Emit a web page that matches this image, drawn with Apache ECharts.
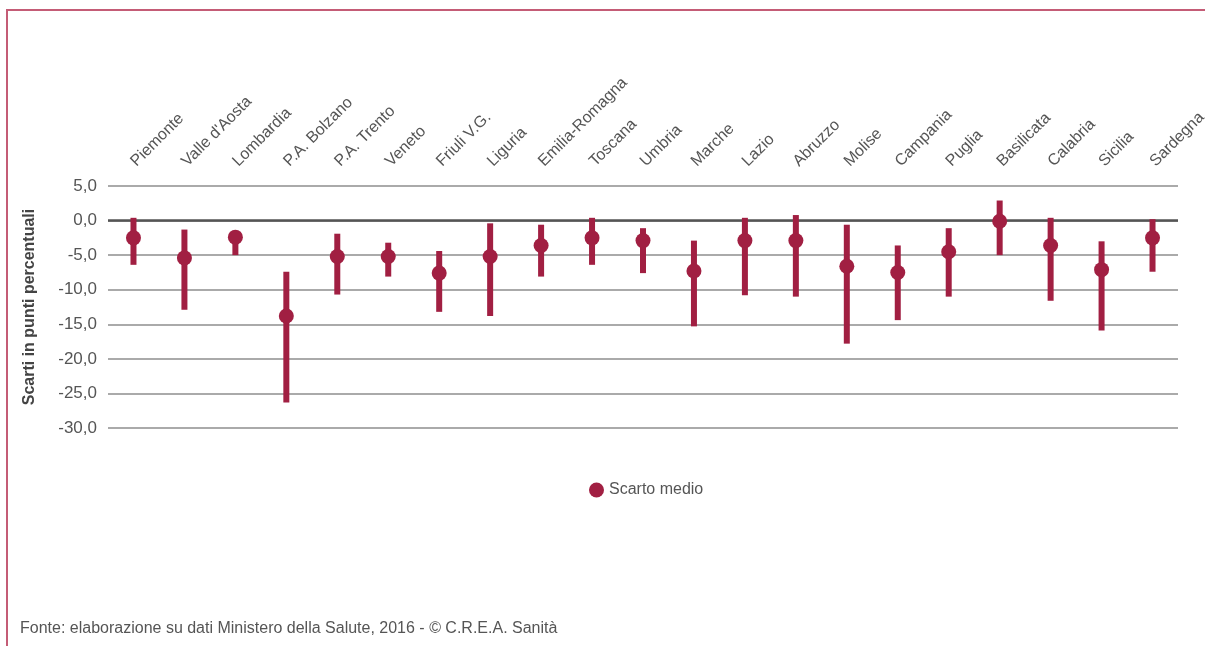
<!DOCTYPE html>
<html>
<head>
<meta charset="utf-8">
<script src="https://cdn.jsdelivr.net/npm/echarts@6/dist/echarts.min.js"></script>
<style>
  html, body { margin: 0; padding: 0; background: #fff; }
  #frame {
    position: absolute; left: 6px; top: 9px; width: 1199px; height: 637px;
    border-top: 2px solid #c45c76; border-left: 2px solid #c45c76;
  }
  #chart { position: absolute; left: 0; top: 0; width: 1205px; height: 646px; }
</style>
</head>
<body>
<div id="frame"></div>
<div id="chart"></div>
<script>
// Regioni e scarti (punti percentuali): media, estremo inferiore, estremo superiore
const regioni = ['Piemonte', "Valle d'Aosta", 'Lombardia', 'P.A. Bolzano', 'P.A. Trento', 'Veneto',
  'Friuli V.G.', 'Liguria', 'Emilia-Romagna', 'Toscana', 'Umbria', 'Marche', 'Lazio', 'Abruzzo',
  'Molise', 'Campania', 'Puglia', 'Basilicata', 'Calabria', 'Sicilia', 'Sardegna'];
const scartoMedio = [-2.5, -5.4, -2.4, -13.8, -5.2, -5.2, -7.6, -5.2, -3.6, -2.5, -2.9, -7.3, -2.9, -2.9,
  -6.6, -7.5, -4.5, -0.1, -3.6, -7.1, -2.5];
const scartoMin = [-6.4, -12.9, -5.0, -26.3, -10.7, -8.1, -13.2, -13.8, -8.1, -6.4, -7.6, -15.3, -10.8, -11.0,
  -17.8, -14.4, -11.0, -5.0, -11.6, -15.9, -7.4];
const scartoMax = [0.4, -1.3, -1.8, -7.4, -1.9, -3.2, -4.4, -0.4, -0.6, 0.4, -1.1, -2.9, 0.4, 0.8,
  -0.6, -3.6, -1.1, 2.9, 0.4, -3.0, 0.2];
const yTicks = [5, 0, -5, -10, -15, -20, -25, -30];

const colore = '#a11f42';
const font = "'Liberation Sans', Arial, sans-serif";

const intervalli = regioni.map((r, i) => [i, scartoMin[i], scartoMax[i]]);

const chart = echarts.init(document.getElementById('chart'), null, { renderer: 'canvas' });
chart.setOption({
  animation: false,
  backgroundColor: 'transparent',
  textStyle: { fontFamily: font },
  grid: { left: 108, right: 27, top: 186, bottom: 218, containLabel: false, outerBoundsMode: 'none' },
  legend: {
    data: ['Scarto medio'],
    left: 584, top: 477,
    icon: 'circle', itemWidth: 15, itemHeight: 15, itemGap: 7,
    textStyle: { color: '#555', fontSize: 16, fontFamily: font }
  },
  graphic: [{
    type: 'text', left: 20, top: 621,
    style: {
      text: 'Fonte: elaborazione su dati Ministero della Salute, 2016 - \u00A9 C.R.E.A. Sanit\u00E0',
      fill: '#555', font: '16px ' + font
    }
  }],
  xAxis: {
    type: 'category',
    position: 'top',
    data: regioni,
    axisLine: { show: false },
    axisTick: { show: false },
    axisLabel: { rotate: 45, margin: 22, color: '#555', fontSize: 16, fontFamily: font, interval: 0 },
    splitLine: { show: false }
  },
  yAxis: {
    type: 'value',
    min: yTicks[yTicks.length - 1], max: yTicks[0], interval: 5,
    name: 'Scarti in punti percentuali',
    nameLocation: 'middle', nameGap: 70, nameRotate: 90,
    nameTextStyle: { color: '#444', fontSize: 16, fontWeight: 'bold', fontFamily: font },
    axisLine: { show: false },
    axisTick: { show: false },
    axisLabel: {
      margin: 11, color: '#555', fontSize: 17, fontFamily: font,
      formatter: v => v.toFixed(1).replace('.', ',')
    },
    splitLine: { lineStyle: { color: '#8e8e8e', width: 1.5 } }
  },
  series: [
    {
      name: 'Intervallo',
      type: 'custom',
      data: intervalli,
      z: 2,
      renderItem: (params, api) => {
        const low = api.coord([api.value(0), api.value(1)]);
        const high = api.coord([api.value(0), api.value(2)]);
        const w = 6;
        return {
          type: 'rect',
          shape: { x: low[0] - w / 2, y: high[1], width: w, height: low[1] - high[1] },
          style: { fill: colore }
        };
      }
    },
    {
      name: 'Scarto medio',
      type: 'scatter',
      data: scartoMedio,
      symbol: 'circle',
      symbolSize: 15,
      z: 3,
      itemStyle: { color: colore, opacity: 1 },
      markLine: {
        silent: true, symbol: 'none', label: { show: false },
        lineStyle: { color: '#555', width: 2.5, type: 'solid' },
        data: [{ yAxis: 0 }],
        z: 1
      }
    }
  ]
});
</script>
</body>
</html>
